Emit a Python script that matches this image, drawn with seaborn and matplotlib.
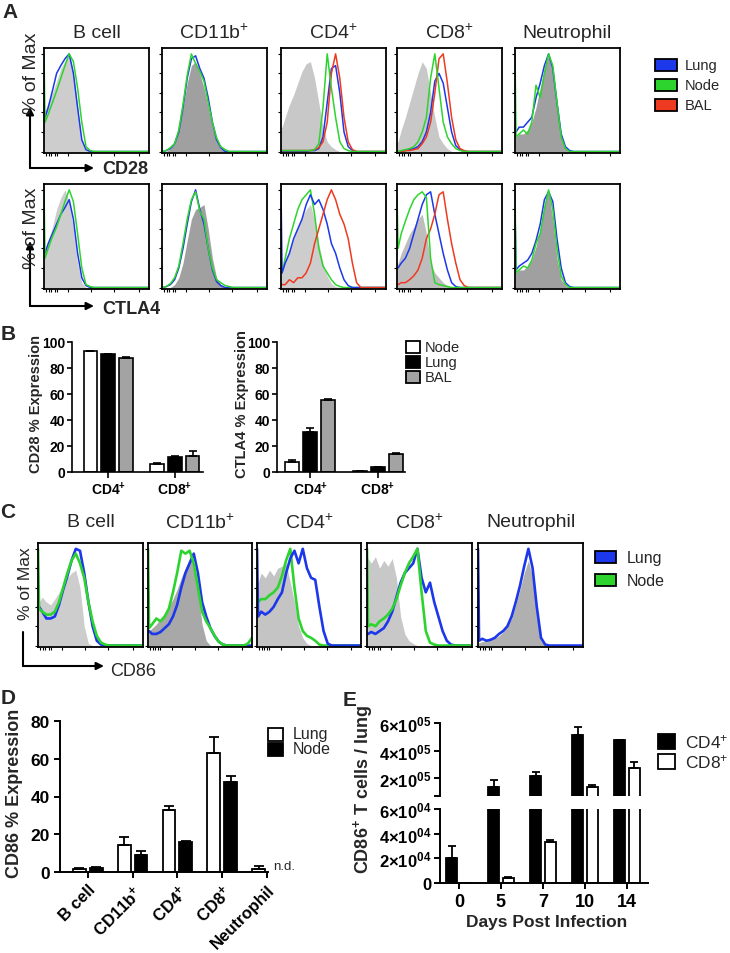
import numpy as np
import pandas as pd
import matplotlib
matplotlib.use("Agg")
import matplotlib.pyplot as plt
import seaborn as sns
from matplotlib.patches import Rectangle, FancyArrowPatch

sns.set_theme(style="white")
plt.rcParams["font.family"] = ["Liberation Sans", "DejaVu Sans"]
plt.rcParams["mathtext.fontset"] = "custom"
plt.rcParams["mathtext.rm"] = "Liberation Sans"
plt.rcParams["mathtext.bf"] = "Liberation Sans:bold"
plt.rcParams["mathtext.it"] = "Liberation Sans:italic"

# ---------------------------------------------------------------- data
BINS = [0, 1, 4, 8, 12, 16, 20, 24, 28, 32, 36, 40, 44, 48, 52, 56, 60, 64, 68, 72, 76, 80, 84, 88, 92, 96, 100]
CELL_TITLES = ["B cell", "CD11b$^{+}$", "CD4$^{+}$", "CD8$^{+}$", "Neutrophil"]

# Panel A, CD28 row (% of max per fluorescence bin)
CD28_BCELL_GRAY = [42, 42, 50, 60, 72, 85, 93, 98, 80, 45, 10, 2, 0, 0, 0, 0, 0, 0, 0, 0, 0, 0, 0, 0, 0, 0, 0]
CD28_BCELL_LUNG = [35, 35, 45, 62, 80, 88, 95, 100, 80, 45, 12, 2, 0, 0, 0, 0, 0, 0, 0, 0, 0, 0, 0, 0, 0, 0, 0]
CD28_BCELL_NODE = [100, 30, 38, 50, 62, 75, 88, 100, 92, 65, 30, 5, 1, 0, 0, 0, 0, 0, 0, 0, 0, 0, 0, 0, 0, 0, 0]
CD28_CD11B_GRAY = [0, 0, 0, 3, 10, 25, 45, 70, 88, 92, 80, 65, 45, 25, 10, 3, 0, 0, 0, 0, 0, 0, 0, 0, 0, 0, 0]
CD28_CD11B_LUNG = [0, 0, 1, 3, 8, 20, 45, 75, 95, 98, 85, 75, 55, 30, 12, 4, 0, 0, 0, 0, 0, 0, 0, 0, 0, 0, 0]
CD28_CD11B_NODE = [0, 0, 1, 4, 8, 22, 48, 78, 100, 90, 82, 72, 50, 30, 14, 5, 2, 0, 0, 0, 0, 0, 0, 0, 0, 0, 0]
CD28_CD4_GRAY = [25, 25, 35, 48, 58, 70, 82, 90, 92, 75, 50, 25, 10, 5, 2, 0, 0, 0, 0, 0, 0, 0, 0, 0, 0, 0, 0]
CD28_CD4_LUNG = [0, 0, 0, 0, 0, 0, 0, 0, 1, 1, 3, 15, 50, 85, 88, 60, 20, 5, 1, 0, 0, 0, 0, 0, 0, 0, 0]
CD28_CD4_NODE = [1, 1, 1, 1, 1, 1, 1, 1, 1, 2, 8, 45, 100, 65, 35, 10, 3, 1, 0, 0, 0, 0, 0, 0, 0, 0, 0]
CD28_CD4_BAL = [1, 1, 1, 1, 1, 1, 1, 1, 1, 2, 4, 10, 30, 80, 100, 75, 35, 10, 2, 0, 0, 0, 0, 0, 0, 0, 0]
CD28_CD8_GRAY = [10, 10, 22, 35, 50, 65, 80, 92, 85, 60, 35, 15, 8, 3, 0, 0, 0, 0, 0, 0, 0, 0, 0, 0, 0, 0, 0]
CD28_CD8_LUNG = [0, 0, 0, 1, 2, 3, 5, 10, 20, 40, 72, 80, 70, 45, 20, 6, 2, 0, 0, 0, 0, 0, 0, 0, 0, 0, 0]
CD28_CD8_NODE = [0, 0, 1, 2, 3, 5, 10, 20, 35, 75, 100, 65, 30, 15, 8, 3, 1, 0, 0, 0, 0, 0, 0, 0, 0, 0, 0]
CD28_CD8_BAL = [0, 0, 0, 1, 1, 2, 3, 8, 15, 30, 60, 95, 100, 70, 35, 12, 3, 1, 0, 0, 0, 0, 0, 0, 0, 0, 0]
CD28_NEUT_GRAY = [15, 15, 18, 18, 22, 30, 45, 65, 85, 98, 80, 45, 15, 3, 0, 0, 0, 0, 0, 0, 0, 0, 0, 0, 0, 0, 0]
CD28_NEUT_LUNG = [20, 20, 25, 25, 30, 35, 55, 70, 88, 100, 85, 50, 18, 5, 1, 0, 0, 0, 0, 0, 0, 0, 0, 0, 0, 0, 0]
CD28_NEUT_NODE = [100, 15, 18, 22, 18, 30, 68, 55, 80, 100, 88, 50, 15, 3, 0, 0, 0, 0, 0, 0, 0, 0, 0, 0, 0, 0, 0]

# Panel A, CTLA4 row
CTLA4_BCELL_GRAY = [35, 35, 48, 62, 80, 92, 100, 88, 60, 25, 5, 0, 0, 0, 0, 0, 0, 0, 0, 0, 0, 0, 0, 0, 0, 0, 0]
CTLA4_BCELL_LUNG = [35, 35, 45, 55, 65, 75, 82, 90, 70, 35, 10, 2, 0, 0, 0, 0, 0, 0, 0, 0, 0, 0, 0, 0, 0, 0, 0]
CTLA4_BCELL_NODE = [100, 30, 40, 52, 62, 75, 88, 100, 88, 55, 20, 3, 1, 0, 0, 0, 0, 0, 0, 0, 0, 0, 0, 0, 0, 0, 0]
CTLA4_CD11B_GRAY = [0, 0, 0, 0, 3, 10, 25, 48, 70, 80, 82, 85, 60, 30, 10, 3, 0, 0, 0, 0, 0, 0, 0, 0, 0, 0, 0]
CTLA4_CD11B_LUNG = [0, 0, 1, 3, 8, 20, 40, 65, 88, 100, 80, 65, 40, 18, 6, 2, 0, 0, 0, 0, 0, 0, 0, 0, 0, 0, 0]
CTLA4_CD11B_NODE = [0, 0, 1, 4, 10, 22, 45, 70, 90, 98, 78, 70, 40, 20, 8, 5, 2, 1, 0, 0, 0, 0, 0, 0, 0, 0, 0]
CTLA4_CD4_GRAY = [20, 20, 28, 38, 50, 62, 72, 80, 85, 70, 45, 25, 12, 4, 1, 0, 0, 0, 0, 0, 0, 0, 0, 0, 0, 0, 0]
CTLA4_CD4_LUNG = [100, 15, 25, 35, 50, 60, 70, 85, 95, 85, 90, 80, 65, 45, 35, 20, 8, 2, 0, 0, 0, 0, 0, 0, 0, 0, 0]
CTLA4_CD4_NODE = [15, 15, 30, 50, 65, 80, 90, 95, 100, 75, 40, 22, 15, 8, 3, 1, 0, 0, 0, 0, 0, 0, 0, 0, 0, 0, 0]
CTLA4_CD4_BAL = [3, 3, 3, 8, 5, 10, 10, 15, 25, 45, 60, 75, 90, 100, 90, 75, 65, 50, 25, 5, 0, 0, 0, 0, 0, 0, 0]
CTLA4_CD8_GRAY = [25, 25, 35, 45, 55, 62, 70, 75, 55, 25, 15, 10, 5, 2, 0, 0, 0, 0, 0, 0, 0, 0, 0, 0, 0, 0, 0]
CTLA4_CD8_LUNG = [20, 20, 25, 30, 40, 55, 70, 85, 95, 98, 75, 55, 35, 18, 5, 1, 0, 0, 0, 0, 0, 0, 0, 0, 0, 0, 0]
CTLA4_CD8_NODE = [95, 40, 55, 68, 80, 90, 95, 98, 92, 30, 5, 3, 2, 1, 0, 0, 0, 0, 0, 0, 0, 0, 0, 0, 0, 0, 0]
CTLA4_CD8_BAL = [3, 3, 5, 5, 8, 12, 18, 30, 50, 60, 75, 95, 98, 70, 45, 25, 8, 2, 0, 0, 0, 0, 0, 0, 0, 0, 0]
CTLA4_NEUT_GRAY = [15, 15, 18, 18, 22, 28, 42, 60, 85, 98, 70, 30, 8, 2, 0, 0, 0, 0, 0, 0, 0, 0, 0, 0, 0, 0, 0]
CTLA4_NEUT_LUNG = [80, 18, 22, 25, 28, 35, 48, 65, 90, 98, 88, 50, 20, 5, 1, 0, 0, 0, 0, 0, 0, 0, 0, 0, 0, 0, 0]
CTLA4_NEUT_NODE = [100, 15, 18, 22, 20, 28, 45, 55, 80, 100, 80, 40, 12, 3, 0, 0, 0, 0, 0, 0, 0, 0, 0, 0, 0, 0, 0]

# Panel C, CD86
CD86_BCELL_GRAY = [45, 45, 50, 45, 42, 48, 55, 62, 70, 75, 78, 60, 20, 2, 0, 0, 0, 0, 0, 0, 0, 0, 0, 0, 0, 0, 0]
CD86_BCELL_LUNG = [40, 40, 35, 28, 28, 30, 42, 58, 72, 88, 100, 98, 75, 45, 20, 5, 1, 0, 0, 0, 0, 0, 0, 0, 0, 0, 0]
CD86_BCELL_NODE = [100, 38, 35, 32, 32, 35, 45, 60, 75, 88, 95, 85, 70, 45, 25, 10, 3, 1, 0, 0, 0, 0, 0, 0, 0, 0, 0]
CD86_CD11B_GRAY = [15, 15, 18, 22, 28, 33, 40, 48, 58, 70, 80, 90, 85, 55, 22, 5, 0, 0, 0, 0, 0, 0, 0, 0, 0, 0, 0]
CD86_CD11B_LUNG = [15, 15, 12, 12, 14, 18, 22, 30, 42, 60, 75, 85, 95, 75, 45, 30, 18, 10, 4, 1, 0, 0, 0, 0, 0, 0, 0]
CD86_CD11B_NODE = [100, 18, 22, 28, 25, 30, 38, 55, 75, 98, 95, 98, 85, 60, 35, 25, 18, 10, 4, 1, 0, 0, 0, 0, 0, 2, 8]
CD86_CD4_GRAY = [65, 65, 75, 70, 78, 72, 80, 82, 85, 65, 45, 20, 8, 2, 0, 0, 0, 0, 0, 0, 0, 0, 0, 0, 0, 0, 0]
CD86_CD4_LUNG = [100, 30, 35, 32, 35, 40, 48, 55, 75, 90, 98, 85, 100, 80, 70, 68, 40, 15, 2, 0, 0, 0, 0, 0, 0, 0, 0]
CD86_CD4_NODE = [45, 45, 48, 48, 52, 55, 60, 72, 88, 100, 60, 28, 15, 10, 8, 5, 1, 0, 0, 0, 0, 0, 0, 0, 0, 0, 0]
CD86_CD8_GRAY = [90, 90, 85, 92, 80, 88, 82, 90, 70, 30, 12, 5, 2, 0, 0, 0, 0, 0, 0, 0, 0, 0, 0, 0, 0, 0, 0]
CD86_CD8_LUNG = [12, 12, 14, 12, 15, 18, 25, 35, 50, 65, 75, 80, 85, 100, 70, 55, 65, 45, 30, 15, 5, 1, 0, 0, 0, 0, 0]
CD86_CD8_NODE = [100, 20, 22, 20, 25, 28, 32, 38, 48, 62, 75, 85, 92, 100, 55, 15, 3, 1, 0, 0, 0, 0, 0, 0, 0, 0, 0]
CD86_NEUT_GRAY = [3, 3, 4, 5, 6, 8, 10, 14, 20, 28, 42, 58, 75, 88, 70, 30, 5, 0, 0, 0, 0, 0, 0, 0, 0, 0, 0]
CD86_NEUT_LUNG = [100, 5, 7, 5, 6, 8, 12, 15, 20, 30, 45, 62, 82, 100, 80, 40, 8, 1, 0, 0, 0, 0, 0, 0, 0, 0, 0]

# Panel B
B_CATS = ["CD4", "CD8"]
B_GROUPS = ["Node", "Lung", "BAL"]
CD28_NODE = [93.0, 6.0]
CD28_LUNG = [90.5, 11.5]
CD28_BAL = [87.5, 12.0]
CD28_NODE_ERR = [0.3, 0.6]
CD28_LUNG_ERR = [0.6, 0.8]
CD28_BAL_ERR = [1.2, 4.5]
CTLA4_NODE = [8.0, 0.7]
CTLA4_LUNG = [31.0, 3.5]
CTLA4_BAL = [55.5, 14.0]
CTLA4_NODE_ERR = [1.2, 0.2]
CTLA4_LUNG_ERR = [2.8, 0.6]
CTLA4_BAL_ERR = [0.6, 0.6]

# Panel D
D_CATS = ["B cell", "CD11b", "CD4", "CD8", "Neutrophil"]
D_GROUPS = ["Lung", "Node"]
D_LUNG = [1.8, 14.2, 32.9, 63.0, 1.8]
D_LUNG_ERR = [0.4, 4.6, 2.1, 8.5, 1.2]
D_NODE = [2.0, 8.9, 15.9, 47.5, np.nan]
D_NODE_ERR = [0.4, 2.2, 0.5, 3.5, np.nan]

# Panel E
E_DAYS = ["0", "5", "7", "10", "14"]
E_GROUPS = ["CD4", "CD8"]
E_CD4 = [2.0e4, 1.35e5, 2.15e5, 5.15e5, 4.73e5]
E_CD4_ERR = [1.0e4, 0.5e5, 0.28e5, 0.58e5, 0.06e5]
E_CD8 = [0.0, 4.0e3, 3.34e4, 1.35e5, 2.73e5]
E_CD8_ERR = [0.0, 0.8e3, 1.4e3, 0.12e5, 0.43e5]

# ---------------------------------------------------------------- layout helpers
W, H = 730, 954
fig = plt.figure(figsize=(W / 100, H / 100), dpi=100)
fig.patch.set_facecolor("white")

COL = {"Lung": "#1c38ea", "Node": "#2ed42e", "BAL": "#ee3a20"}


def axpx(x0, y0, x1, y1):
    return fig.add_axes([x0 / W, 1 - y1 / H, (x1 - x0) / W, (y1 - y0) / H])


def ftext(x, y, s, **kw):
    fig.text(x / W, 1 - y / H, s, **kw)


def arrow(x0, y0, x1, y1, head=True, lw=1.5):
    style = "-|>" if head else "-"
    fig.add_artist(FancyArrowPatch((x0 / W, 1 - y0 / H), (x1 / W, 1 - y1 / H),
                                   transform=fig.transFigure, arrowstyle=style,
                                   mutation_scale=11, lw=lw, color="black",
                                   shrinkA=0, shrinkB=0))


def legend_px(x, ys, w, h, colors, labels, tx, fs, weight="normal", lw=1.3):
    for y, c, lab in zip(ys, colors, labels):
        fig.add_artist(Rectangle((x / W, 1 - (y + h / 2) / H), w / W, h / H,
                                 transform=fig.transFigure, facecolor=c,
                                 edgecolor="black", lw=lw))
        ftext(tx, y, lab, fontsize=fs, va="center", ha="left", fontweight=weight)


def hist_axes(box, gray, gcolor, curves, lw):
    ax = axpx(*box)
    ax.fill_between(BINS, 0, gray, color=gcolor, lw=0, zorder=1)
    for key, vals in curves:
        sns.lineplot(x=BINS, y=vals, ax=ax, color=COL[key], lw=lw,
                     estimator=None, sort=False, legend=False, zorder=3)
    ax.set_xlim(0, 100)
    ax.set_ylim(-1.5, 106)
    ax.set_xticks([2, 5, 7, 10, 12, 23, 45, 67, 90])
    ax.set_yticks([0, 20, 40, 60, 80, 100])
    ax.set_xticklabels([])
    ax.set_yticklabels([])
    ax.set_xlabel("")
    ax.set_ylabel("")
    ax.tick_params(direction="out", length=2.5, width=0.8, colors="black",
                   left=True, bottom=True)
    for s in ax.spines.values():
        s.set_visible(True)
        s.set_color("black")
        s.set_linewidth(1.3)
        s.set_zorder(4)
    return ax


def bar_axes(box, cats, groups, series, errs, colors, width, gap, xlim, ylim,
             spine_lw=1.2, bar_lw=1.2, capsize=3.5):
    ax = axpx(*box)
    rows = []
    for ci, c in enumerate(cats):
        for gi, g in enumerate(groups):
            rows.append({"cat": c, "grp": g, "val": series[gi][ci]})
    df = pd.DataFrame(rows)
    sns.barplot(data=df, x="cat", y="val", hue="grp", order=cats, hue_order=groups,
                palette=dict(zip(groups, colors)), width=width, gap=gap,
                edgecolor="black", linewidth=bar_lw, errorbar=None, legend=False,
                ax=ax, zorder=2)
    n = len(groups)
    bars = [p for p in ax.patches if np.isfinite(p.get_height())]
    for ci in range(len(cats)):
        for gi in range(n):
            v, e = series[gi][ci], errs[gi][ci]
            if not np.isfinite(v) or not np.isfinite(e) or e <= 0:
                continue
            target = ci - width / 2 + width / n * (gi + 0.5)
            p = min(bars, key=lambda q: abs(q.get_x() + q.get_width() / 2 - target))
            cx = p.get_x() + p.get_width() / 2
            ax.errorbar([cx], [p.get_height()], yerr=[[0], [e]], fmt="none",
                        ecolor="black", elinewidth=bar_lw, capsize=capsize,
                        capthick=bar_lw, zorder=3)
    ax.set_xlim(*xlim)
    ax.set_ylim(*ylim)
    ax.set_xlabel("")
    ax.set_ylabel("")
    for side in ["top", "right"]:
        ax.spines[side].set_visible(False)
    for side in ["left", "bottom"]:
        ax.spines[side].set_visible(True)
        ax.spines[side].set_color("black")
        ax.spines[side].set_linewidth(spine_lw)
    ax.tick_params(direction="out", length=4, width=spine_lw, colors="black",
                   left=True, bottom=True)
    return ax


# ---------------------------------------------------------------- Panel A
A_X = [(44, 149), (162, 267), (281, 386), (397, 502), (515, 620)]
A_TOP = (49, 154)
A_BOT = (185, 290)
LIGHT, DARK = "#cdcdcd", "#a0a0a0"

rowA1 = [
    (CD28_BCELL_GRAY, LIGHT, [("Lung", CD28_BCELL_LUNG), ("Node", CD28_BCELL_NODE)]),
    (CD28_CD11B_GRAY, DARK, [("Lung", CD28_CD11B_LUNG), ("Node", CD28_CD11B_NODE)]),
    (CD28_CD4_GRAY, "#c8c8c8", [("Lung", CD28_CD4_LUNG), ("BAL", CD28_CD4_BAL), ("Node", CD28_CD4_NODE)]),
    (CD28_CD8_GRAY, "#c8c8c8", [("Lung", CD28_CD8_LUNG), ("BAL", CD28_CD8_BAL), ("Node", CD28_CD8_NODE)]),
    (CD28_NEUT_GRAY, DARK, [("Lung", CD28_NEUT_LUNG), ("Node", CD28_NEUT_NODE)]),
]
rowA2 = [
    (CTLA4_BCELL_GRAY, LIGHT, [("Lung", CTLA4_BCELL_LUNG), ("Node", CTLA4_BCELL_NODE)]),
    (CTLA4_CD11B_GRAY, DARK, [("Lung", CTLA4_CD11B_LUNG), ("Node", CTLA4_CD11B_NODE)]),
    (CTLA4_CD4_GRAY, LIGHT, [("Node", CTLA4_CD4_NODE), ("Lung", CTLA4_CD4_LUNG), ("BAL", CTLA4_CD4_BAL)]),
    (CTLA4_CD8_GRAY, "#bdbdbd", [("Lung", CTLA4_CD8_LUNG), ("BAL", CTLA4_CD8_BAL), ("Node", CTLA4_CD8_NODE)]),
    (CTLA4_NEUT_GRAY, DARK, [("Lung", CTLA4_NEUT_LUNG), ("Node", CTLA4_NEUT_NODE)]),
]
for (x0, x1), title, spec in zip(A_X, CELL_TITLES, rowA1):
    hist_axes((x0, A_TOP[0], x1, A_TOP[1]), spec[0], spec[1], spec[2], lw=1.1)
    ftext((x0 + x1) / 2, 33, title, fontsize=14, ha="center", va="center")
for (x0, x1), spec in zip(A_X, rowA2):
    hist_axes((x0, A_BOT[0], x1, A_BOT[1]), spec[0], spec[1], spec[2], lw=1.1)

ftext(10, 13, "A", fontsize=15, fontweight="bold", ha="center", va="center")
ftext(31, 73, "% of Max", fontsize=14, rotation=90, ha="center", va="center")
ftext(31, 228, "% of Max", fontsize=14, rotation=90, ha="center", va="center")
arrow(30, 169, 30, 108)
arrow(30, 169, 94, 169)
arrow(30, 307, 30, 242)
arrow(30, 307, 94, 307)
ftext(102, 169, "CD28", fontsize=13, fontweight="bold", ha="left", va="center")
ftext(102, 309, "CTLA4", fontsize=13, fontweight="bold", ha="left", va="center")
legend_px(655, [66, 86, 106], 22, 12, [COL["Lung"], COL["Node"], COL["BAL"]],
          ["Lung", "Node", "BAL"], 685, 10.5)

# ---------------------------------------------------------------- Panel B
B_COLORS = ["white", "black", "#a3a3a3"]
B_XT = ["CD4$^{\\mathbf{+}}$", "CD8$^{\\mathbf{+}}$"]
axb1 = bar_axes((72, 343, 203, 473), B_CATS, B_GROUPS,
                [CD28_NODE, CD28_LUNG, CD28_BAL],
                [CD28_NODE_ERR, CD28_LUNG_ERR, CD28_BAL_ERR],
                B_COLORS, 0.8, 0.25, (-0.54, 1.42), (0, 100), capsize=3.2)
axb2 = bar_axes((277, 343, 405, 473), B_CATS, B_GROUPS,
                [CTLA4_NODE, CTLA4_LUNG, CTLA4_BAL],
                [CTLA4_NODE_ERR, CTLA4_LUNG_ERR, CTLA4_BAL_ERR],
                B_COLORS, 0.8, 0.25, (-0.49, 1.40), (0, 100), capsize=3.2)
for ax in (axb1, axb2):
    ax.set_yticks([0, 20, 40, 60, 80, 100])
    ax.set_yticklabels(["0", "20", "40", "60", "80", "100"], fontsize=10, fontweight="bold")
    ax.set_xticks([0, 1])
    ax.set_xticklabels(B_XT, fontsize=10, fontweight="bold")
    ax.tick_params(axis="y", length=3.5, pad=1.5)
    ax.tick_params(axis="x", pad=2)
ftext(8, 335, "B", fontsize=15, fontweight="bold", ha="center", va="center")
ftext(36, 404, "CD28 % Expression", fontsize=10.5, fontweight="bold", rotation=90,
      ha="center", va="center")
ftext(242, 404, "CTLA4 % Expression", fontsize=10.5, fontweight="bold", rotation=90,
      ha="center", va="center")
legend_px(406, [348, 363, 378], 14, 12, B_COLORS, ["Node", "Lung", "BAL"], 425, 10.5)

# ---------------------------------------------------------------- Panel C
C_X = [(38, 143), (148, 252), (257, 361), (367, 472), (478, 583)]
C_Y = (544, 648)
rowC = [
    (CD86_BCELL_GRAY, "#cdcdcd", [("Lung", CD86_BCELL_LUNG), ("Node", CD86_BCELL_NODE)]),
    (CD86_CD11B_GRAY, "#a8a8a8", [("Lung", CD86_CD11B_LUNG), ("Node", CD86_CD11B_NODE)]),
    (CD86_CD4_GRAY, "#c4c4c4", [("Node", CD86_CD4_NODE), ("Lung", CD86_CD4_LUNG)]),
    (CD86_CD8_GRAY, "#c8c8c8", [("Lung", CD86_CD8_LUNG), ("Node", CD86_CD8_NODE)]),
    (CD86_NEUT_GRAY, "#b0b0b0", [("Lung", CD86_NEUT_LUNG)]),
]
for (x0, x1), title, spec in zip(C_X, CELL_TITLES, rowC):
    hist_axes((x0, C_Y[0], x1, C_Y[1]), spec[0], spec[1], spec[2], lw=1.9)
    ftext((x0 + x1) / 2, 523, title, fontsize=14, ha="center", va="center")
ftext(8, 513, "C", fontsize=15, fontweight="bold", ha="center", va="center")
ftext(26, 584, "% of Max", fontsize=12.5, rotation=90, ha="center", va="center")
arrow(23, 633, 23, 667, head=False)
arrow(23, 667, 104, 667)
ftext(110, 672, "CD86", fontsize=13, ha="left", va="center")
legend_px(595, [558, 581], 21, 12, [COL["Lung"], COL["Node"]], ["Lung", "Node"], 627, 11.5)

# ---------------------------------------------------------------- Panel D
axd = bar_axes((60, 722, 268, 873), D_CATS, D_GROUPS, [D_LUNG, D_NODE],
               [D_LUNG_ERR, D_NODE_ERR], ["white", "black"], 0.75, 0.24,
               (-0.62, 4.02), (0, 80), spine_lw=1.4, bar_lw=1.3, capsize=3.5)
axd.set_yticks([0, 20, 40, 60, 80])
axd.set_yticklabels(["0", "20", "40", "60", "80"], fontsize=12.5, fontweight="bold")
axd.set_xticks(range(5))
axd.set_xticklabels(["B cell", "CD11b$^{\\mathbf{+}}$", "CD4$^{\\mathbf{+}}$",
                     "CD8$^{\\mathbf{+}}$", "Neutrophil"], fontsize=12, fontweight="bold",
                    rotation=45, ha="right", rotation_mode="anchor")
axd.tick_params(axis="x", pad=3)
ftext(8, 699, "D", fontsize=15, fontweight="bold", ha="center", va="center")
ftext(15, 793, "CD86 % Expression", fontsize=13, fontweight="bold", rotation=90,
      ha="center", va="center")
ftext(273, 867, "n.d.", fontsize=9.5, ha="left", va="center")
legend_px(268, [735, 750], 15, 13, ["white", "black"], ["Lung", "Node"], 293, 11.5)

# ---------------------------------------------------------------- Panel E
E_COLORS = ["black", "white"]
E_XLIM = (-0.45, 4.5)
axe_up = bar_axes((440, 724, 648, 797), E_DAYS, E_GROUPS, [E_CD4, E_CD8],
                  [E_CD4_ERR, E_CD8_ERR], E_COLORS, 0.7, 0.25, E_XLIM, (7e4, 6e5),
                  spine_lw=1.4, bar_lw=1.3, capsize=3.2)
axe_lo = bar_axes((440, 810, 648, 884), E_DAYS, E_GROUPS, [E_CD4, E_CD8],
                  [E_CD4_ERR, E_CD8_ERR], E_COLORS, 0.7, 0.25, E_XLIM, (0, 6e4),
                  spine_lw=1.4, bar_lw=1.3, capsize=3.2)
axe_up.spines["bottom"].set_visible(False)
axe_up.tick_params(axis="x", bottom=False, labelbottom=False)
axe_up.set_yticks([7e4, 2e5, 4e5, 6e5])
axe_up.set_yticklabels(["", "2\u00d710$^{\\mathbf{05}}$", "4\u00d710$^{\\mathbf{05}}$",
                        "6\u00d710$^{\\mathbf{05}}$"], fontsize=12, fontweight="bold")
axe_lo.set_yticks([0, 2e4, 4e4, 6e4])
axe_lo.set_yticklabels(["0", "2\u00d710$^{\\mathbf{04}}$", "4\u00d710$^{\\mathbf{04}}$",
                        "6\u00d710$^{\\mathbf{04}}$"], fontsize=12, fontweight="bold")
axe_lo.set_xticks(range(5))
axe_lo.set_xticklabels(E_DAYS, fontsize=13, fontweight="bold")
for ax in (axe_up, axe_lo):
    ax.tick_params(axis="y", pad=2)
ftext(350, 700, "E", fontsize=15, fontweight="bold", ha="center", va="center")
ftext(363, 790, "CD86$^{\\mathbf{+}}$ T cells / lung", fontsize=13, fontweight="bold",
      rotation=90, ha="center", va="center")
ftext(547, 923, "Days Post Infection", fontsize=12.5, fontweight="bold",
      ha="center", va="center")
legend_px(658, [742, 762], 17, 15, E_COLORS, ["CD4$^{+}$", "CD8$^{+}$"], 685, 12.5)

fig.savefig("out.png", dpi=100, facecolor="white")
